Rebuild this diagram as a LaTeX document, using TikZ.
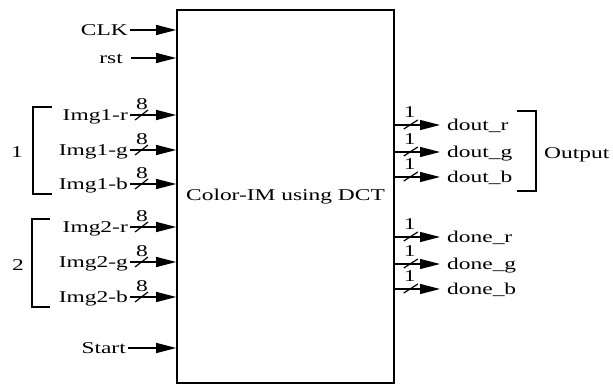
\documentclass[tikz,border=0pt]{standalone}
\usepackage{fontspec}
\setmainfont{Liberation Serif}[FakeStretch=1.42]
\usetikzlibrary{arrows.meta,calc}
\tikzset{
  block/.style={draw=black, line width=1.6pt, minimum width=217pt, minimum height=373pt, inner sep=0pt},
  port/.style={inner xsep=2pt, inner ysep=0pt, text height=11pt, text depth=0pt},
  signal/.style={-{Triangle[length=20pt,width=10pt]}, line width=1.2pt, draw=black},
  buswidth/.style={line width=1.2pt},
  bracket/.style={line width=1.5pt}
}

\begin{document}
\begin{tikzpicture}[x=1pt,y=-1pt,font=\fontsize{16.5}{19}\selectfont]
  \useasboundingbox (0,0) rectangle (613,385);
  \node[block] (dct) at (285.5,196.5) {Color-IM using DCT};

  % control inputs
  \node[port, anchor=east] (clk) at (130,30) {CLK};
  \node[port, anchor=east] (rst) at (125,58) {rst};
  \node[port, anchor=east] (start) at (128,348) {Start};
  \draw[signal] (clk.east) -- (clk.east -| dct.west);
  \draw[signal] ([xshift=6pt]rst.east) -- (rst.east -| dct.west);
  \draw[signal] (start.east) -- (start.east -| dct.west);

  % 8-bit image inputs
  \foreach \nm/\lbl/\y in {img1r/Img1-r/115, img1g/Img1-g/150, img1b/Img1-b/184,
                          img2r/Img2-r/227, img2g/Img2-g/262, img2b/Img2-b/297}{
    \node[port, anchor=east] (\nm) at (130,\y) {\lbl};
    \draw[signal] (\nm.east) -- (\nm.east -| dct.west);
    \draw[buswidth] ($(\nm.east)+(5,5)$) -- ++(13,-10);
    \node[inner sep=0pt] at ($(\nm.east)+(12,-10.5)$) {8};
  }

  % 1-bit outputs
  \foreach \nm/\lbl/\y in {doutr/dout\_r/125, doutg/dout\_g/152, doutb/dout\_b/177,
                          doner/done\_r/237, doneg/done\_g/264, doneb/done\_b/289}{
    \node[port, anchor=west] (\nm) at (445,\y) {\lbl};
    \draw[signal] (\nm.west -| dct.east) -- ([xshift=-5pt]\nm.west);
    \draw[buswidth] ($(\nm.west -| dct.east)+(9,4)$) -- ++(14,-9);
    \node[inner sep=0pt] at ($(\nm.west -| dct.east)+(15,-13)$) {1};
  }

  % groups
  \draw[bracket] (52,107) -| (33,194) -- (52,194);
  \node[inner sep=0pt] (g1) at (17,152) {1};
  \draw[bracket] (50,219) -| (32,307) -- (50,307);
  \node[inner sep=0pt] (g2) at (18,265) {2};
  \draw[bracket] (517,111) -| (536,191) -- (517,191);
  \node[inner sep=0pt, anchor=west] (out) at (544,155) {Output};
\end{tikzpicture}
\end{document}
